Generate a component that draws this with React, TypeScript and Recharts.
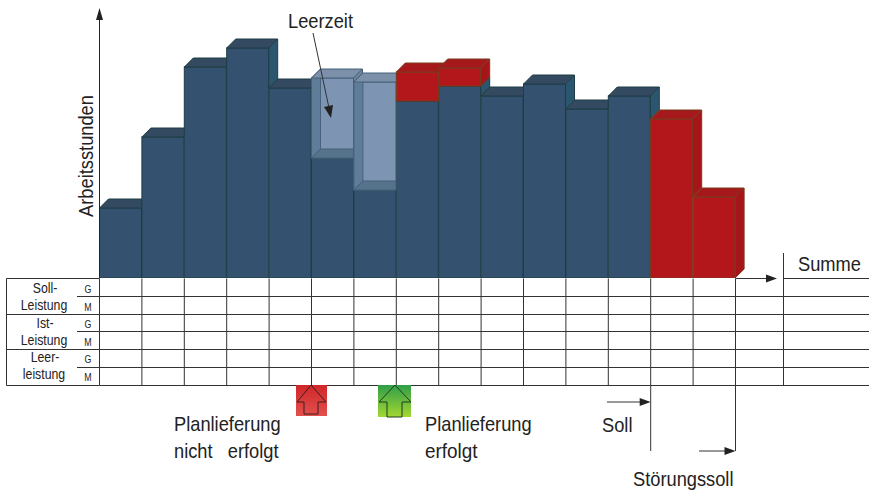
import { Bar, ComposedChart, XAxis, YAxis } from "recharts";

const perioden = ["1", "2", "3", "4", "5", "6", "7", "8", "9", "10", "11", "12", "13", "14", "15"];
const istStunden = [70, 141, 211, 230, 190, 120, 88, 177, 192, 182, 194, 169, 182, 0, 0];
const leerStunden = [0, 0, 0, 0, 0, 80, 108, 0, 0, 0, 0, 0, 0, 0, 0];
const stoerStunden = [0, 0, 0, 0, 0, 0, 0, 29, 18, 0, 0, 0, 0, 159, 81];

const zeilenTitel = [
  ["Soll-", "Leistung"],
  ["Ist-", "Leistung"],
  ["Leer-", "leistung"],
];
const zeilenArten = ["G", "M"];

const rows = perioden.map((periode, i) => ({
  periode,
  ist: istStunden[i],
  leer: leerStunden[i],
  stoer: stoerStunden[i],
}));
const totals = rows.map((r) => r.ist + r.leer + r.stoer);

const WIDTH = 869;
const HEIGHT = 492;
const PLOT_LEFT = 99.5;
const PLOT_RIGHT = 735.5;
const PLOT_TOP = 8;
const BASELINE = 278;
const Y_MAX = 270;
const DEPTH = 9;
const COLUMN = (PLOT_RIGHT - PLOT_LEFT) / perioden.length;
const SANS = "'Liberation Sans', Arial, sans-serif";

const pts = (list: number[][]) => list.map((p) => p.join(",")).join(" ");

// lower edge of the visible side face: the neighbour to the right hides the rest
const sideClip = (index: number, bottom: number) => {
  const next = totals[index + 1] ?? 0;
  return Math.min(bottom, BASELINE - (next * (BASELINE - PLOT_TOP)) / Y_MAX);
};

const makeBlock =
  (front: string, top: string, side: string, edge: string) => (props: any) => {
    const { x, y, width, height, index } = props;
    if (!height || height <= 0) return <g />;
    const right = x + width;
    const clip = sideClip(index, y + height);
    return (
      <g stroke={edge} strokeWidth={1}>
        <rect x={x} y={y} width={width} height={height} fill={front} />
        <polygon
          fill={top}
          points={pts([[x, y], [x + DEPTH, y - DEPTH], [right + DEPTH, y - DEPTH], [right, y]])}
        />
        {clip > y && (
          <polygon
            fill={side}
            points={pts([[right, y], [right + DEPTH, y - DEPTH], [right + DEPTH, clip - DEPTH], [right, clip]])}
          />
        )}
      </g>
    );
  };

// the idle-time box is open: back wall, left wall and floor show through
const LeerBlock = (props: any) => {
  const { x, y, width, height, index } = props;
  if (!height || height <= 0) return <g />;
  const right = x + width;
  const bottom = y + height;
  const clip = sideClip(index, bottom);
  return (
    <g stroke="#46617a" strokeWidth={1}>
      <rect x={x} y={y} width={width} height={height} fill="#7d94b3" />
      <polygon
        fill="#5f7c98"
        points={pts([[x, y], [x + DEPTH, y - DEPTH], [x + DEPTH, bottom - DEPTH], [x, bottom]])}
      />
      <polygon
        fill="#56738c"
        points={pts([[x, bottom], [x + DEPTH, bottom - DEPTH], [right, bottom - DEPTH], [right, bottom]])}
      />
      <polygon
        fill="#7c90a9"
        points={pts([[x, y], [x + DEPTH, y - DEPTH], [right + DEPTH, y - DEPTH], [right, y]])}
      />
      {clip > y && (
        <polygon
          fill="#6d87a0"
          points={pts([[right, y], [right + DEPTH, y - DEPTH], [right + DEPTH, clip - DEPTH], [right, clip]])}
        />
      )}
    </g>
  );
};

// no condensed face is installed, so the sans is squeezed horizontally
const Txt = ({ x, y, size = 21, squeeze = 0.87, anchor = "start", rotate = 0, children }: any) => (
  <text
    transform={`translate(${x} ${y}) rotate(${rotate}) scale(${squeeze} 1)`}
    fontFamily={SANS}
    fontSize={size}
    textAnchor={anchor}
    fill="#222"
    stroke="none"
  >
    {children}
  </text>
);

const ArrowHead = ({ x, y, dir }: { x: number; y: number; dir: "right" | "up" }) =>
  dir === "right" ? (
    <polygon points={pts([[x, y], [x - 11, y - 4], [x - 11, y + 4]])} fill="#222" />
  ) : (
    <polygon points={pts([[x, y], [x - 3.5, y + 12], [x + 3.5, y + 12]])} fill="#222" />
  );

const TableAndNotes = () => {
  const rowYs = [278.5, 296.5, 314.5, 331.5, 349.5, 367.5, 385.5];
  const LINE = "#333";
  const cols = perioden.map((_, i) => PLOT_LEFT + COLUMN * i);
  return (
    <svg
      width={WIDTH}
      height={HEIGHT}
      style={{ position: "absolute", left: 0, top: 0, pointerEvents: "none" }}
    >
      <defs>
        <linearGradient id="redBox" x1="0" y1="0" x2="0" y2="1">
          <stop offset="0" stopColor="#d0262a" />
          <stop offset="1" stopColor="#e2504c" />
        </linearGradient>
        <linearGradient id="greenBox" x1="0" y1="0" x2="0" y2="1">
          <stop offset="0" stopColor="#2f9e48" />
          <stop offset="1" stopColor="#a4d832" />
        </linearGradient>
      </defs>

      {/* table frame */}
      <g stroke={LINE} strokeWidth={1} fill="none">
        <line x1={6.5} y1={rowYs[0]} x2={PLOT_LEFT} y2={rowYs[0]} />
        <line x1={6.5} y1={rowYs[0]} x2={6.5} y2={rowYs[6]} />
        {rowYs.slice(1).map((y) => (
          <line key={y} x1={PLOT_LEFT} y1={y} x2={WIDTH} y2={y} />
        ))}
        <line x1={6.5} y1={rowYs[6]} x2={PLOT_LEFT} y2={rowYs[6]} />
        <line x1={6.5} y1={rowYs[2]} x2={PLOT_LEFT} y2={rowYs[2]} />
        <line x1={6.5} y1={rowYs[4]} x2={PLOT_LEFT} y2={rowYs[4]} />
        {[1, 3, 5].map((r) => (
          <line key={r} x1={77} y1={rowYs[r]} x2={PLOT_LEFT} y2={rowYs[r]} />
        ))}
        {cols.map((x) => (
          <line key={x} x1={x} y1={rowYs[0]} x2={x} y2={rowYs[6]} />
        ))}
        <line x1={PLOT_RIGHT} y1={rowYs[0]} x2={PLOT_RIGHT} y2={451} />
        <line x1={cols[13]} y1={rowYs[6]} x2={cols[13]} y2={451} />
        <line x1={783.5} y1={253} x2={783.5} y2={rowYs[6]} />
        <line x1={783.5} y1={rowYs[0]} x2={WIDTH} y2={rowYs[0]} />
        <line x1={PLOT_RIGHT} y1={rowYs[0]} x2={770} y2={rowYs[0]} />
        <line x1={607} y1={402} x2={642} y2={402} />
        <line x1={699} y1={451} x2={726} y2={451} />
        <line x1={313} y1={33} x2={329} y2={108} />
        <line x1={PLOT_LEFT} y1={15} x2={PLOT_LEFT} y2={BASELINE} stroke="#222" />
      </g>
      <ArrowHead x={PLOT_LEFT} y={PLOT_TOP} dir="up" />
      <ArrowHead x={777} y={rowYs[0]} dir="right" />
      <ArrowHead x={cols[13]} y={402} dir="right" />
      <ArrowHead x={PLOT_RIGHT} y={451} dir="right" />
      <polygon points={pts([[331, 118], [324, 107], [333, 105]])} fill="#222" />

      {zeilenTitel.map((title, i) => (
        <g key={title[0]}>
          <Txt x={45} y={293 + i * 34.5} size={15} squeeze={0.82} anchor="middle">{title[0]}</Txt>
          <Txt x={44} y={310 + i * 34.5} size={15} squeeze={0.82} anchor="middle">{title[1]}</Txt>
          {zeilenArten.map((art, k) => (
            <Txt key={art} x={88} y={293 + i * 35 + k * 17.5} size={11} squeeze={0.8} anchor="middle">{art}</Txt>
          ))}
        </g>
      ))}

      {/* delivery markers under the table */}
      <rect x={296} y={385} width={31} height={31} fill="url(#redBox)" />
      <polygon
        points={pts([[311, 385], [326, 402], [318, 402], [318, 414], [304, 414], [304, 402], [297, 402]])}
        fill="none"
        stroke="#3a2020"
        strokeWidth={1}
      />
      <rect x={378} y={385} width={33} height={32} fill="url(#greenBox)" />
      <polygon
        points={pts([[395, 385], [411, 402], [402, 402], [402, 417], [387, 417], [387, 402], [379, 402]])}
        fill="none"
        stroke="#1f3a1f"
        strokeWidth={1}
      />

      <Txt x={93} y={156} rotate={-90} anchor="middle">Arbeitsstunden</Txt>
      <Txt x={288} y={28}>Leerzeit</Txt>
      <Txt x={798} y={271}>Summe</Txt>
      <Txt x={174} y={431}>Planlieferung</Txt>
      <Txt x={174} y={458}>nicht&#160;&#160;&#160;erfolgt</Txt>
      <Txt x={425} y={431}>Planlieferung</Txt>
      <Txt x={425} y={458} squeeze={0.9}>erfolgt</Txt>
      <Txt x={602} y={432}>Soll</Txt>
      <Txt x={633} y={486}>Störungssoll</Txt>
    </svg>
  );
};

export default function App() {
  return (
    <div style={{ position: "absolute", left: 0, top: 0, width: WIDTH, height: HEIGHT, background: "#fff" }}>
      <ComposedChart
        width={WIDTH}
        height={HEIGHT}
        data={rows}
        barCategoryGap={0}
        margin={{ left: PLOT_LEFT, right: WIDTH - PLOT_RIGHT, top: PLOT_TOP, bottom: HEIGHT - BASELINE }}
      >
        <XAxis dataKey="periode" height={0} tick={false} tickLine={false} axisLine={false} padding={{ left: 0, right: 0 }} />
        <YAxis width={0} domain={[0, Y_MAX]} tick={false} tickLine={false} axisLine={false} allowDataOverflow />
        <Bar dataKey="ist" stackId="std" isAnimationActive={false} shape={makeBlock("#34526f", "#334a60", "#2b5670", "#1f3c44")} />
        <Bar dataKey="leer" stackId="std" isAnimationActive={false} shape={LeerBlock} />
        <Bar dataKey="stoer" stackId="std" isAnimationActive={false} shape={makeBlock("#b3171c", "#a5191c", "#a51519", "#7a3a1c")} />
      </ComposedChart>
      <TableAndNotes />
    </div>
  );
}
